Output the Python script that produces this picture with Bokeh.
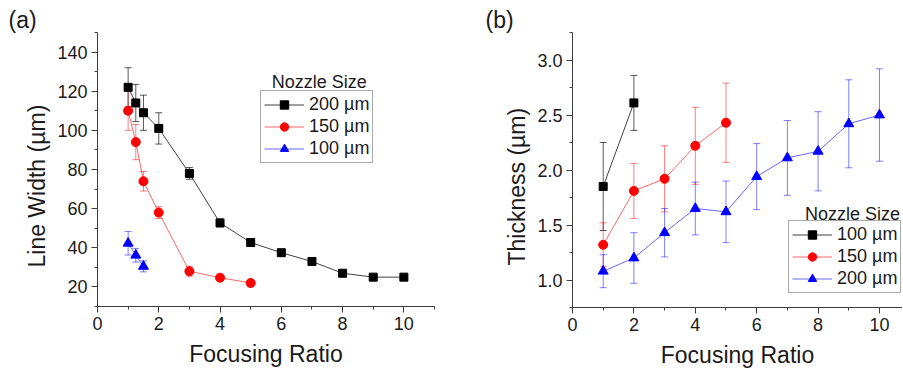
from bokeh.plotting import figure
from bokeh.models import (ColumnDataSource, Whisker, TeeHead, Legend, LegendItem, Label, Title,
                          SingleIntervalTicker, NumeralTickFormatter, Range1d)
from bokeh.layouts import row
from bokeh.embed import file_html
from bokeh.resources import INLINE

FONT = "Liberation Sans"

# ---------------- Panel (a): Line width vs focusing ratio ----------------
a_x_200 = [1, 1.25, 1.5, 2, 3, 4, 5, 6, 7, 8, 9, 10]
a_y_200 = [122, 114, 109, 101, 78, 52.7, 42.7, 37.5, 33, 27, 25, 25]
a_e_200 = [10, 9.5, 9, 8, 3, 2, 2, 1.5, 1.5, 1.2, 1.2, 1.0]
a_x_150 = [1, 1.25, 1.5, 2, 3, 4, 5]
a_y_150 = [110, 94, 74, 58, 28, 24.7, 22]
a_e_150 = [10, 9, 5, 3, 2.5, 1.5, 1.5]
a_x_100 = [1, 1.25, 1.5]
a_y_100 = [42.3, 36.2, 30.5]
a_e_100 = [6, 3.5, 2.8]

# ---------------- Panel (b): Thickness vs focusing ratio ----------------
b_x_100 = [1, 2]
b_y_100 = [1.85, 2.61]
b_e_100 = [0.40, 0.25]
b_x_150 = [1, 2, 3, 4, 5]
b_y_150 = [1.32, 1.81, 1.92, 2.22, 2.43]
b_e_150 = [0.20, 0.25, 0.30, 0.35, 0.36]
b_x_200 = [1, 2, 3, 4, 5, 6, 7, 8, 9, 10]
b_y_200 = [1.08, 1.20, 1.43, 1.65, 1.62, 1.94, 2.11, 2.17, 2.42, 2.50]
b_e_200 = [0.15, 0.23, 0.22, 0.24, 0.28, 0.30, 0.34, 0.36, 0.40, 0.42]

a_labels = ["200 µm", "150 µm", "100 µm"]
b_labels = ["100 µm", "150 µm", "200 µm"]

TXT = "#1a1a1a"
AX = "#3c3c3c"


def style(p):
    p.outline_line_color = None
    p.xgrid.visible = False
    p.ygrid.visible = False
    p.background_fill_color = "white"
    p.border_fill_color = "white"
    for ax in (p.xaxis[0], p.yaxis[0]):
        ax.axis_line_color = AX
        ax.major_tick_line_color = AX
        ax.minor_tick_line_color = AX
        ax.major_tick_out = 6
        ax.major_tick_in = 0
        ax.minor_tick_out = 3
        ax.minor_tick_in = 0
        ax.major_label_text_font = FONT
        ax.major_label_text_font_size = "18px"
        ax.major_label_text_color = TXT
        ax.axis_label_text_font = FONT
        ax.axis_label_text_font_size = "23px"
        ax.axis_label_text_font_style = "normal"
        ax.axis_label_text_color = TXT
        ax.major_label_standoff = 4
    p.xaxis[0].ticker = SingleIntervalTicker(interval=2, num_minor_ticks=2)
    p.xaxis[0].axis_label_standoff = 8


def series(p, xs, ys, es, color, marker, size, line_alpha, err_alpha):
    src = ColumnDataSource(dict(x=xs, y=ys,
                                upper=[y + e for y, e in zip(ys, es)],
                                lower=[y - e for y, e in zip(ys, es)]))
    w = Whisker(base="x", upper="upper", lower="lower", source=src, dimension="height",
                line_color=color, line_alpha=err_alpha, line_width=1,
                upper_head=TeeHead(size=7, line_color=color, line_alpha=err_alpha, line_width=1),
                lower_head=TeeHead(size=7, line_color=color, line_alpha=err_alpha, line_width=1))
    p.add_layout(w)
    lr = p.line("x", "y", source=src, line_color=color, line_alpha=line_alpha, line_width=1)
    sr = p.scatter("x", "y", source=src, marker=marker, size=size, fill_color=color,
                   line_color=color)
    return lr, sr


def make_legend(p, items, loc):
    leg = Legend(items=items, location=loc, border_line_color="#555555",
                 border_line_width=1, background_fill_alpha=1.0,
                 label_text_font=FONT, label_text_font_size="18px",
                 label_text_color=TXT, glyph_width=40, glyph_height=21,
                 label_height=21, spacing=1, padding=3, margin=0, label_standoff=5)
    p.add_layout(leg, "center")


def text(p, x, y, s, size):
    p.add_layout(Label(x=x, y=y, text=s, text_align="center", text_baseline="middle",
                       text_font=FONT, text_font_size=size, text_color=TXT))


def title(p, s, side, offset, standoff):
    p.add_layout(Title(text=s, align="left", offset=offset, standoff=standoff,
                       text_font=FONT, text_font_size="23px", text_font_style="normal",
                       text_color=TXT), side)


# ---------------- Figure (a) ----------------
pa = figure(frame_width=337, frame_height=274, min_border_left=97, min_border_right=14,
            min_border_top=32, min_border_bottom=58,
            x_range=Range1d(0, 11), y_range=Range1d(10, 150),
            output_backend="svg", toolbar_location=None,
            x_axis_label="Focusing Ratio")
style(pa)
pa.yaxis[0].ticker = SingleIntervalTicker(interval=20, num_minor_ticks=2)

l1, s1 = series(pa, a_x_200, a_y_200, a_e_200, "black", "square", 8, 0.75, 0.65)
l2, s2 = series(pa, a_x_150, a_y_150, a_e_150, "red", "circle", 9, 0.6, 0.5)
l3, s3 = series(pa, a_x_100, a_y_100, a_e_100, "blue", "triangle", 10, 0.6, 0.5)
make_legend(pa, [LegendItem(label=a_labels[0], renderers=[l1, s1]),
                 LegendItem(label=a_labels[1], renderers=[l2, s2]),
                 LegendItem(label=a_labels[2], renderers=[l3, s3])], (163, 143))
text(pa, 7.24, 124.5, "Nozzle Size", "18px")
title(pa, "(a)", "above", -89, 0)
title(pa, "Line Width (µm)", "left", 39, 9)

# ---------------- Figure (b) ----------------
pb = figure(frame_width=330, frame_height=275, min_border_left=124, min_border_right=0,
            min_border_top=32, min_border_bottom=57,
            x_range=Range1d(0, 10.75), y_range=Range1d(0.75, 3.25),
            output_backend="svg", toolbar_location=None,
            x_axis_label="Focusing Ratio")
style(pb)
pb.yaxis[0].ticker = SingleIntervalTicker(interval=0.5, num_minor_ticks=2)
pb.yaxis[0].formatter = NumeralTickFormatter(format="0.0")

m1, t1 = series(pb, b_x_100, b_y_100, b_e_100, "black", "square", 8, 0.75, 0.65)
m2, t2 = series(pb, b_x_150, b_y_150, b_e_150, "red", "circle", 9, 0.6, 0.5)
m3, t3 = series(pb, b_x_200, b_y_200, b_e_200, "blue", "triangle", 10, 0.6, 0.5)
make_legend(pb, [LegendItem(label=b_labels[0], renderers=[m1, t1]),
                 LegendItem(label=b_labels[1], renderers=[m2, t2]),
                 LegendItem(label=b_labels[2], renderers=[m3, t3])], (216, 14))
text(pb, 9.12, 1.60, "Nozzle Size", "18px")
title(pb, "(b)", "above", -87, 0)
title(pb, "Thickness (µm)", "left", 42, 9)

layout = row(pa, pb)
open("out.html", "w").write(file_html(layout, INLINE))
